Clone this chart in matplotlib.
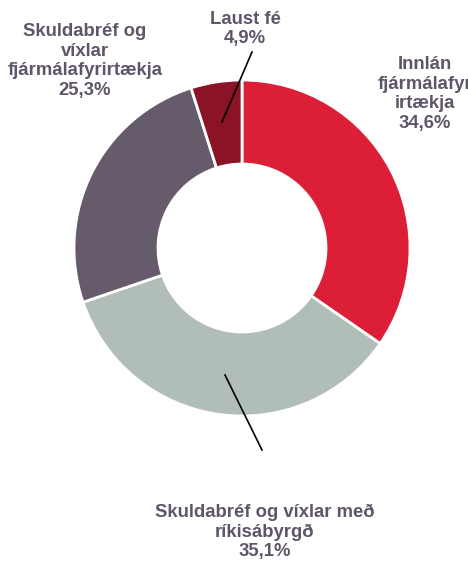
import matplotlib.pyplot as plt

labels = ["Innlán\nfjármálafyr\nirtækja", "Skuldabréf og víxlar með\nríkisábyrgð",
          "Skuldabréf og\nvíxlar\nfjármálafyrirtækja", "Laust fé"]
shares = [34.6, 35.1, 25.3, 4.9]
colors = ["#DC1F36", "#B1BDB7", "#665B6B", "#8A1426"]

W, H = 468, 563
fig = plt.figure(figsize=(W / 100, H / 100), dpi=100)
ax = fig.add_axes([0, 0, 1, 1])

cx, cy, r = 242, H - 248, 168
ax.pie(shares, colors=colors, startangle=90, counterclock=False,
       center=(cx, cy), radius=r,
       wedgeprops=dict(width=r * 0.5, edgecolor="white", linewidth=2))
ax.set_xlim(0, W)
ax.set_ylim(0, H)
ax.set_aspect("equal")
ax.axis("off")

txt = dict(fontsize=13.3, fontweight="bold", color="#5F5568",
           family="Liberation Sans", ha="center", va="center", linespacing=1.2)
pos = [(425, 94), (265, 532), (85, 61), (245, 29)]
for lab, val, (x, y) in zip(labels, shares, pos):
    ax.text(x, H - y, lab + "\n" + f"{val:.1f}".replace(".", ",") + "%", **txt)

# leader lines for the small and bottom slices
ax.plot([222, 252], [H - 122, H - 52], color="black", lw=1.2)
ax.plot([225, 262], [H - 375, H - 450], color="black", lw=1.2)

fig.savefig("out.png", dpi=100)
